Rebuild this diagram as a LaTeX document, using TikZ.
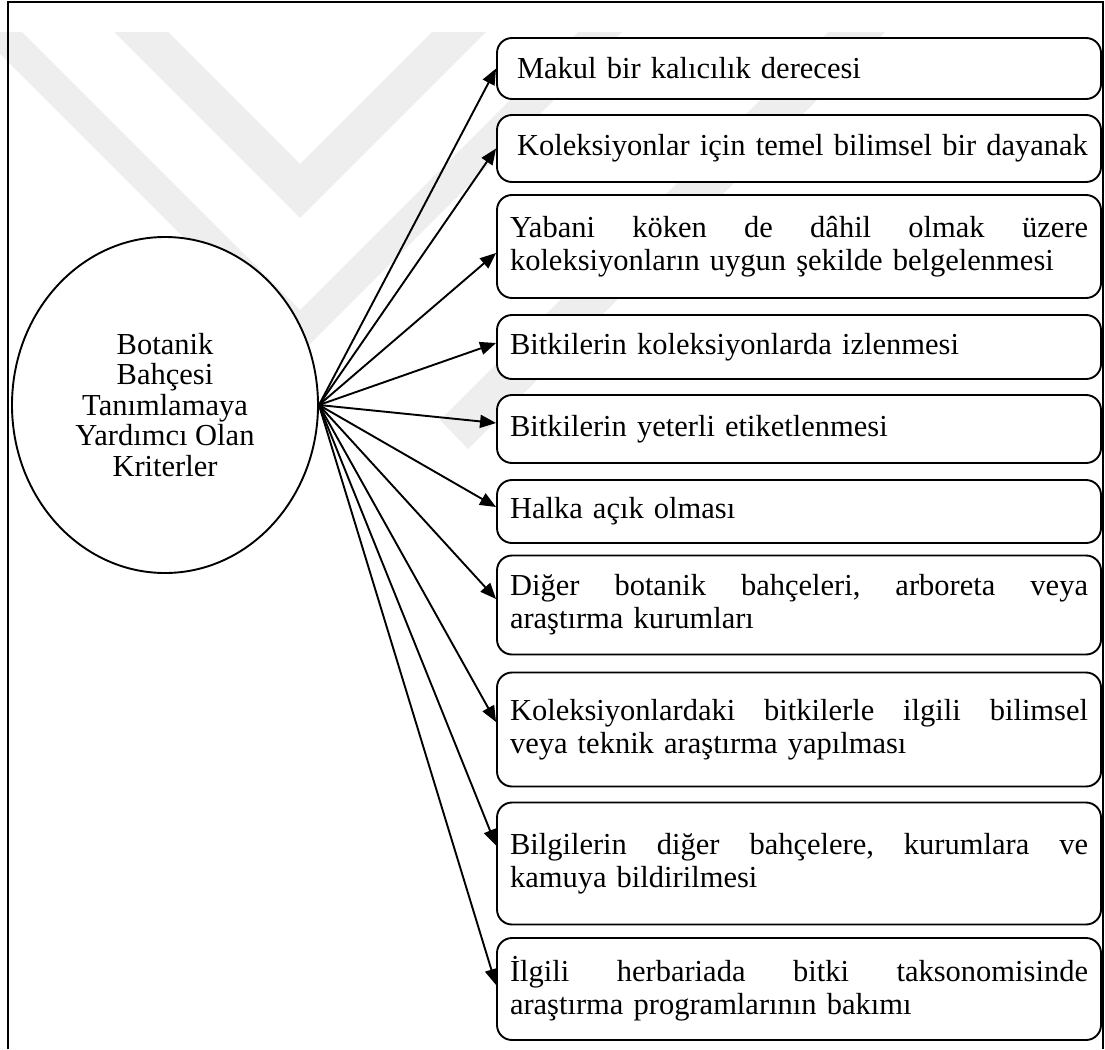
\documentclass[tikz,border=0pt]{standalone}
\usepackage{fontspec}
\setmainfont{Liberation Serif}
\usetikzlibrary{arrows.meta,shapes.geometric}
\setlength{\parindent}{0pt}
\definecolor{wm}{RGB}{238,238,238}
\begin{document}
\begin{tikzpicture}[x=1pt,y=-1pt,
  txt/.style={font=\fontsize{30.5}{33}\selectfont},
  box/.style={txt,draw,line width=1.9pt,rounded corners=15pt,fill=white,
    minimum width=604pt,text width=578pt,align=left,inner sep=0pt},
  oval/.style={draw,ellipse,line width=1.9pt,fill=white,font=\fontsize{30.5}{30.5}\selectfont,
    minimum width=306pt,minimum height=336pt,align=center,inner sep=0pt},
  arr/.style={line width=1.9pt,-{Triangle[length=16pt,width=13pt]}},
  frame/.style={line width=2pt}
]
\useasboundingbox (0,0) rectangle (1105,1049);
% watermark
\fill[wm] (114,32) -- (168,32) -- (300,164) -- (432,32) -- (486,32) -- (300,218) -- cycle;
\fill[wm] (-22,32) -- (22,32) -- (300,310) -- (578,32) -- (622,32) -- (300,354) -- cycle;
\fill[wm] (828,32) -- (885,32) -- (468,449) -- (440,420) -- cycle;
% frame
\draw[frame] (8,1049) -- (8,2) -- (1103,2) -- (1103,1049);
% central ellipse
\node[oval] (e) at (165,405) {Botanik\\Bahçesi\\Tanımlamaya\\Yardımcı Olan\\Kriterler};
% boxes
\node[box,minimum height=61pt]  (b1)  at (799,68.5)  {\hspace*{7pt}Makul bir kalıcılık derecesi};
\node[box,minimum height=67pt]  (b2)  at (799,148.5) {\hspace*{7pt}Koleksiyonlar için temel bilimsel bir dayanak};
\node[box,minimum height=103pt] (b3)  at (799,246.5) {Yabani\hfill köken\hfill de\hfill dâhil\hfill olmak\hfill üzere\\koleksiyonların uygun şekilde belgelenmesi};
\node[box,minimum height=64pt]  (b4)  at (799,347)   {Bitkilerin koleksiyonlarda izlenmesi};
\node[box,minimum height=68pt]  (b5)  at (799,429)   {Bitkilerin yeterli etiketlenmesi};
\node[box,minimum height=63pt]  (b6)  at (799,511.5) {Halka açık olması};
\node[box,minimum height=99pt]  (b7)  at (799,605)   {Diğer\hfill botanik\hfill bahçeleri,\hfill arboreta\hfill veya\\araştırma kurumları};
\node[box,minimum height=114pt] (b8)  at (799,729.5) {Koleksiyonlardaki\hfill bitkilerle\hfill ilgili\hfill bilimsel\\veya teknik araştırma yapılması\par\vspace{22pt}};
\node[box,minimum height=122pt] (b9)  at (799,863.5) {Bilgilerin\hfill diğer\hfill bahçelere,\hfill kurumlara\hfill ve\\kamuya bildirilmesi\par\vspace{22pt}};
\node[box,minimum height=102pt] (b10) at (799,989)   {İlgili\hfill herbariada\hfill bitki\hfill taksonomisinde\\araştırma programlarının bakımı};
% connectors
\draw[arr] (e.east) -- (b1.west);
\draw[arr] (e.east) -- (b2.west);
\draw[arr] (e.east) -- ([yshift=-6.5pt]b3.west);
\draw[arr] (e.east) -- ([yshift=4pt]b4.west);
\draw[arr] (e.east) -- ([yshift=6pt]b5.west);
\draw[arr] (e.east) -- ([yshift=4.5pt]b6.west);
\draw[arr] (e.east) -- ([yshift=6pt]b7.west);
\draw[arr] (e.east) -- ([yshift=7.5pt]b8.west);
\draw[arr] (e.east) -- ([yshift=18pt]b9.west);
\draw[arr] (e.east) -- ([yshift=4pt]b10.west);
\end{tikzpicture}
\end{document}
